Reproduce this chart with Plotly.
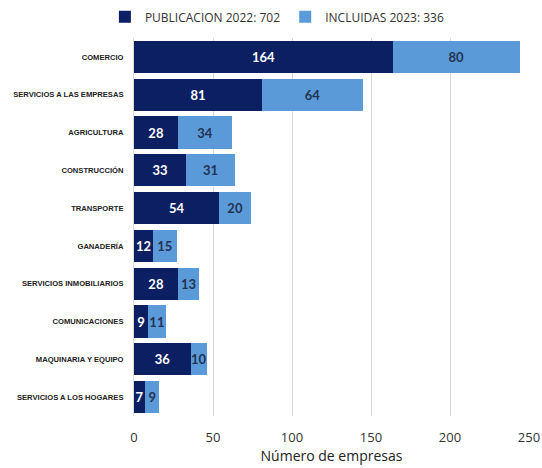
import plotly.graph_objects as go

categories = ["COMERCIO", "SERVICIOS A LAS EMPRESAS", "AGRICULTURA", "CONSTRUCCIÓN",
              "TRANSPORTE", "GANADERÍA", "SERVICIOS INMOBILIARIOS", "COMUNICACIONES",
              "MAQUINARIA Y EQUIPO", "SERVICIOS A LOS HOGARES"]
pub_2022 = [164, 81, 28, 33, 54, 12, 28, 9, 36, 7]
inc_2023 = [80, 64, 34, 31, 20, 15, 13, 11, 10, 9]
series_names = ["PUBLICACION 2022: 702", "INCLUIDAS 2023: 336"]
x_ticks = [0, 50, 100, 150, 200, 250]

dark = "#0c1f63"
light = "#5b9ad8"

fig = go.Figure()
fig.add_trace(go.Bar(
    y=categories, x=pub_2022, orientation="h", name=series_names[0],
    marker=dict(color=dark, line=dict(width=0)),
    text=pub_2022, textposition="inside", insidetextanchor="middle",
    constraintext="none",
    textfont=dict(family="Lato", size=13, color="white", weight="bold"),
    cliponaxis=False,
))
fig.add_trace(go.Bar(
    y=categories, x=inc_2023, orientation="h", name=series_names[1],
    marker=dict(color=light, line=dict(width=0)),
    text=inc_2023, textposition="inside", insidetextanchor="middle",
    constraintext="none",
    textfont=dict(family="Lato", size=13, color="#243252", weight="bold"),
    cliponaxis=False,
))

fig.update_layout(
    width=542, height=468,
    barmode="stack", bargap=0.15,
    margin=dict(l=134, r=13, t=38, b=52, autoexpand=False),
    plot_bgcolor="white", paper_bgcolor="white",
    font=dict(family="Open Sans", color="#333333"),
    legend=dict(orientation="h", x=0.363, xanchor="center", y=1.056, yanchor="middle",
                font=dict(size=12, color="#333333"), traceorder="normal",
                itemwidth=30, tracegroupgap=0),
    xaxis=dict(range=[0, 250], tickvals=x_ticks,
               ticklabeloverflow="allow",
               showgrid=True, gridcolor="#d9d9d9",
               gridwidth=1, zeroline=False, showline=False, automargin=False,
               tickfont=dict(size=13, color="#333333"), ticks="", ticklabelstandoff=12,
               title=dict(text="Número de empresas", font=dict(size=14, color="#222222"),
                          standoff=4)),
    yaxis=dict(autorange="reversed", showgrid=False, ticks="", automargin=False,
               tickfont=dict(family="Liberation Sans Narrow, Liberation Sans", size=7.6,
                             color="#222222", weight="bold"),
               ticklabelstandoff=8,
               showline=True, linecolor="#d9d9d9"),
)

fig.write_html("out.html",
               config={"displayModeBar": False},
               post_script="document.body.style.margin='0px';document.body.style.overflow='hidden';")
